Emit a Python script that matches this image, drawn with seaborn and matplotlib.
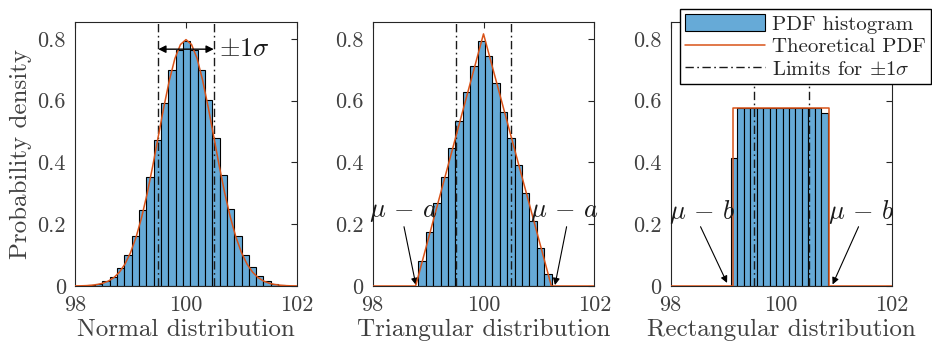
import numpy as np
import pandas as pd
import matplotlib
matplotlib.use("Agg")
import matplotlib.pyplot as plt
import seaborn as sns
from matplotlib.patches import Patch
from matplotlib.lines import Line2D

# ---------------- data ----------------
x_ticks = [98, 100, 102]
x_tick_labels = ["98", "100", "102"]
y_ticks = [0, 0.2, 0.4, 0.6, 0.8]
y_tick_labels = ["0", "0.2", "0.4", "0.6", "0.8"]
sigma_limits = [99.5, 100.5]

# Normal distribution histogram
normal_first_edge = 98.228
normal_bin_width = 0.132
normal_heights = [0.003, 0.008, 0.017, 0.030, 0.059, 0.100, 0.162, 0.246, 0.353,
                  0.473, 0.594, 0.700, 0.765, 0.795, 0.765, 0.700, 0.602, 0.479,
                  0.358, 0.250, 0.161, 0.100, 0.060, 0.033, 0.017, 0.007, 0.003]
# theoretical normal pdf, read at 0.1 steps
normal_pdf_x = [98.0, 98.1, 98.2, 98.3, 98.4, 98.5, 98.6, 98.7, 98.8, 98.9, 99.0,
                99.1, 99.2, 99.3, 99.4, 99.5, 99.6, 99.7, 99.8, 99.9, 100.0,
                100.1, 100.2, 100.3, 100.4, 100.5, 100.6, 100.7, 100.8, 100.9, 101.0,
                101.1, 101.2, 101.3, 101.4, 101.5, 101.6, 101.7, 101.8, 101.9, 102.0]
normal_pdf_y = [0.0003, 0.0006, 0.0012, 0.0025, 0.0048, 0.0089, 0.0158, 0.0271, 0.0448, 0.071, 0.108,
                0.158, 0.222, 0.299, 0.388, 0.484, 0.579, 0.666, 0.737, 0.782, 0.798,
                0.782, 0.737, 0.666, 0.579, 0.484, 0.388, 0.299, 0.222, 0.158, 0.108,
                0.071, 0.0448, 0.0271, 0.0158, 0.0089, 0.0048, 0.0025, 0.0012, 0.0006, 0.0003]

# Triangular distribution histogram
tri_first_edge = 98.823
tri_bin_width = 0.1337
tri_heights = [0.081, 0.176, 0.268, 0.354, 0.446, 0.535, 0.627, 0.712, 0.793,
               0.745, 0.656, 0.565, 0.478, 0.392, 0.300, 0.212, 0.124, 0.038]
tri_pdf_x = [98.0, 98.775, 100.0, 101.225, 102.0]
tri_pdf_y = [0.0, 0.0, 0.8165, 0.0, 0.0]

# Rectangular distribution histogram
rect_first_edge = 99.09
rect_bin_width = 0.1168
rect_heights = [0.415, 0.577, 0.577, 0.577, 0.577, 0.577, 0.577, 0.577,
                0.577, 0.577, 0.577, 0.577, 0.577, 0.577, 0.561]
rect_pdf_x = [98.0, 99.134, 99.134, 100.866, 100.866, 102.0]
rect_pdf_y = [0.0, 0.0, 0.577, 0.577, 0.0, 0.0]

xlabels = ["Normal distribution", "Triangular distribution", "Rectangular distribution"]
ylabel = "Probability density"
legend_labels = ["PDF histogram", "Theoretical PDF", r"Limits for $\pm 1\sigma$"]

# ---------------- style ----------------
sns.set_style("white")
plt.rcParams["font.family"] = ["cmr10", "DejaVu Serif"]
plt.rcParams["mathtext.fontset"] = "cm"
plt.rcParams["axes.formatter.use_mathtext"] = True
plt.rcParams["axes.unicode_minus"] = False

BAR = "#66AAD7"
ORANGE = "#D95319"
AXC = "0.15"
DASHDOT = (0, (6, 2.5, 1.2, 2.5))

fig = plt.figure(figsize=(9.32, 3.43), dpi=100)
W, H = 932, 343
lefts = [75, 372.7, 670.7]
widths = [222, 221.6, 221]
top_px, bot_px = 22, 286
axes = []
for l, w in zip(lefts, widths):
    axes.append(fig.add_axes([l / W, (H - bot_px) / H, w / W, (bot_px - top_px) / H]))

hists = [(normal_first_edge, normal_bin_width, normal_heights, normal_pdf_x, normal_pdf_y),
         (tri_first_edge, tri_bin_width, tri_heights, tri_pdf_x, tri_pdf_y),
         (rect_first_edge, rect_bin_width, rect_heights, rect_pdf_x, rect_pdf_y)]

for i, (ax, (e0, bw, hts, px, py)) in enumerate(zip(axes, hists)):
    n = len(hts)
    centers = e0 + bw * (np.arange(n) + 0.5)
    df = pd.DataFrame({"x": centers, "w": hts})
    sns.histplot(data=df, x="x", weights="w", binwidth=bw, binrange=(e0, e0 + n * bw),
                 stat="count", color=BAR, alpha=1, edgecolor="black", linewidth=0.8,
                 ax=ax, zorder=2)
    for xl in sigma_limits:
        ax.axvline(xl, color="0.1", lw=1.0, ls=DASHDOT, zorder=3)
    sns.lineplot(x=px, y=py, color=ORANGE, lw=1.1, ax=ax, zorder=4,
                 estimator=None, sort=False)
    ax.set_xlim(98, 102)
    ax.set_ylim(0, 0.855)
    ax.set_xticks(x_ticks)
    ax.set_xticklabels(x_tick_labels)
    ax.set_yticks(y_ticks)
    ax.set_yticklabels(y_tick_labels)
    ax.tick_params(direction="in", top=True, right=True, length=4, width=0.8,
                   color=AXC, labelcolor="0.25", labelsize=16, pad=6.5)
    for s in ax.spines.values():
        s.set_color(AXC)
        s.set_linewidth(0.8)
    ax.set_xlabel(xlabels[i], fontsize=18, color="0.25", labelpad=3)
    ax.set_ylabel("")

axes[0].set_ylabel(ylabel, fontsize=18, color="0.25", labelpad=4)

# annotations
axes[0].annotate("", xy=(99.5, 0.767), xytext=(100.5, 0.767),
                 arrowprops=dict(arrowstyle="<|-|>", color="k", lw=1, mutation_scale=11,
                                 shrinkA=0, shrinkB=0), zorder=6)
axes[0].text(100.6, 0.767, r"$\pm 1\sigma$", fontsize=19, ha="left", va="center", color="0.1")

arrow_kw = dict(arrowstyle="-|>", color="k", lw=0.8, mutation_scale=10, shrinkA=0, shrinkB=0)
mu_a = r"$\mu\,-\,a$"
mu_b = r"$\mu\,-\,b$"
axes[1].text(98.55, 0.24, mu_a, fontsize=19, ha="center", va="center", zorder=7, color="0.1")
axes[1].text(101.45, 0.24, mu_a, fontsize=19, ha="center", va="center", zorder=7, color="0.1")
axes[1].annotate("", xy=(98.78, 0.003), xytext=(98.565, 0.192), arrowprops=arrow_kw)
axes[1].annotate("", xy=(101.29, 0.003), xytext=(101.5, 0.192), arrowprops=arrow_kw)

axes[2].text(98.56, 0.24, mu_b, fontsize=19, ha="center", va="center", zorder=7, color="0.1")
axes[2].text(101.44, 0.24, mu_b, fontsize=19, ha="center", va="center", zorder=7, color="0.1")
axes[2].annotate("", xy=(99.02, 0.01), xytext=(98.54, 0.192), arrowprops=arrow_kw)
axes[2].annotate("", xy=(100.93, 0.005), xytext=(101.4, 0.192), arrowprops=arrow_kw)

handles = [Patch(facecolor=BAR, edgecolor="black", linewidth=0.8),
           Line2D([], [], color=ORANGE, lw=1.1),
           Line2D([], [], color="0.1", lw=1.0, ls=DASHDOT)]
leg = axes[2].legend(handles, legend_labels, loc="upper right",
                     bbox_to_anchor=(931 / W, 1 - 9 / H), bbox_transform=fig.transFigure,
                     fontsize=15, frameon=True, fancybox=False, framealpha=1,
                     edgecolor="black", handlelength=3.8, handleheight=0.85,
                     handletextpad=0.35, labelspacing=0.15, borderpad=0.25,
                     borderaxespad=0)
leg.get_frame().set_linewidth(1.0)
leg.set_zorder(10)

fig.savefig("out.png", dpi=100)
